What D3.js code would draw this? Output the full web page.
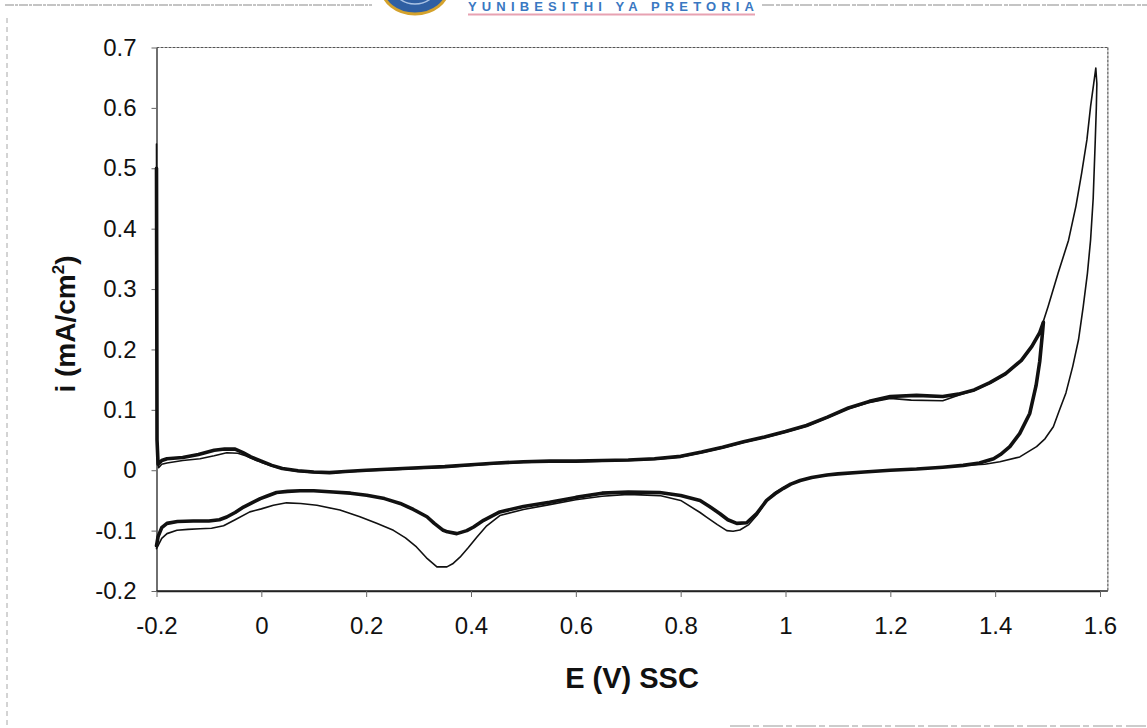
<!DOCTYPE html>
<html>
<head>
<meta charset="utf-8">
<script src="https://cdn.jsdelivr.net/npm/d3@7/dist/d3.min.js"></script>
<style>
  html, body { margin: 0; padding: 0; background: #ffffff; }
  svg { display: block; }
  text { font-family: "Liberation Sans", Arial, sans-serif; fill: #111; }
</style>
</head>
<body>
<svg id="chart" width="1147" height="728"></svg>
<script>
// Cyclic voltammograms: potential E (V vs SSC) and current density i (mA/cm²)
// Cycle with the 1.5 V anodic vertex (heavy trace)
const cycle15E = [
  -0.2, -0.199, -0.197, -0.19, -0.18, -0.15, -0.12, -0.09, -0.07, -0.05, -0.035, -0.02, 0.0, 0.02, 0.04, 0.07,
  0.1, 0.13, 0.16, 0.2, 0.25, 0.3, 0.35, 0.4, 0.45, 0.5, 0.55, 0.6, 0.65, 0.7, 0.75, 0.8, 0.84, 0.88, 0.92,
  0.96, 1.0, 1.04, 1.08, 1.12, 1.16, 1.2, 1.25, 1.3, 1.33, 1.36, 1.39, 1.42, 1.45, 1.47, 1.485, 1.492,
  1.49, 1.485, 1.478, 1.466, 1.447, 1.428, 1.41, 1.397, 1.37, 1.339, 1.3, 1.25, 1.2, 1.15, 1.1, 1.079, 1.05,
  1.028, 1.01, 0.996, 0.98, 0.964, 0.945, 0.926, 0.907, 0.89, 0.875, 0.855, 0.837, 0.8, 0.76, 0.7, 0.65,
  0.6, 0.55, 0.5, 0.455, 0.424, 0.405, 0.392, 0.373, 0.355, 0.347, 0.33, 0.316, 0.29, 0.265, 0.235, 0.201,
  0.17, 0.137, 0.1, 0.074, 0.05, 0.029, 0.01, -0.002, -0.02, -0.034, -0.05, -0.066, -0.08, -0.1, -0.13,
  -0.16, -0.18, -0.19, -0.197, -0.2
];
const cycle15I = [
  0.50, 0.05, 0.010, 0.016, 0.019, 0.021, 0.026, 0.033, 0.035, 0.035, 0.029, 0.022, 0.015, 0.008, 0.003, -0.001,
  -0.003, -0.004, -0.002, 0.0, 0.002, 0.004, 0.006, 0.009, 0.012, 0.014, 0.015, 0.015, 0.016, 0.017, 0.019, 0.023, 0.030, 0.038, 0.047,
  0.055, 0.064, 0.074, 0.088, 0.103, 0.114, 0.122, 0.124, 0.122, 0.126, 0.133, 0.145, 0.160, 0.182, 0.205, 0.228, 0.245,
  0.225, 0.18, 0.14, 0.094, 0.061, 0.039, 0.026, 0.019, 0.012, 0.008, 0.005, 0.002, 0.0, -0.003, -0.006, -0.008, -0.012,
  -0.017, -0.023, -0.030, -0.039, -0.050, -0.072, -0.087, -0.088, -0.082, -0.072, -0.060, -0.050, -0.042, -0.037, -0.036, -0.038,
  -0.045, -0.053, -0.060, -0.069, -0.083, -0.094, -0.100, -0.105, -0.102, -0.0995, -0.088, -0.077, -0.065, -0.055, -0.047, -0.0415,
  -0.038, -0.036, -0.034, -0.034, -0.035, -0.037, -0.043, -0.047, -0.055, -0.061, -0.070, -0.0775, -0.082, -0.084, -0.084,
  -0.085, -0.088, -0.095, -0.11, -0.125
];

// Cycle with the 1.6 V anodic vertex (light trace)
const cycle16E = [
  -0.2, -0.199, -0.196, -0.19, -0.18, -0.15, -0.117, -0.09, -0.066, -0.045, -0.03, -0.015, 0.0, 0.02, 0.04, 0.07,
  0.1, 0.13, 0.16, 0.2, 0.25, 0.3, 0.35, 0.4, 0.45, 0.5, 0.55, 0.6, 0.65, 0.7, 0.75, 0.8, 0.84, 0.88, 0.92,
  0.96, 1.0, 1.04, 1.08, 1.12, 1.16, 1.2, 1.24, 1.3, 1.33, 1.36, 1.39, 1.42, 1.45, 1.47, 1.485, 1.501,
  1.52, 1.54, 1.554, 1.565, 1.575, 1.582, 1.588, 1.592,
  1.594, 1.593, 1.591, 1.587, 1.582, 1.576, 1.568, 1.559, 1.548, 1.535, 1.522, 1.511, 1.495, 1.479, 1.447,
  1.409, 1.38, 1.34, 1.3, 1.25,
  1.2, 1.15, 1.1, 1.05, 1.028, 1.0, 0.98, 0.964, 0.945, 0.93, 0.913, 0.9, 0.888, 0.87, 0.85, 0.837, 0.8,
  0.76, 0.7, 0.65, 0.6, 0.55, 0.5, 0.455, 0.43, 0.411, 0.395, 0.379, 0.365, 0.354, 0.335, 0.315, 0.296,
  0.275, 0.252, 0.22, 0.188, 0.15, 0.106, 0.075, 0.048, 0.023, 0.0, -0.022, -0.05, -0.072, -0.095, -0.117,
  -0.14, -0.161, -0.18, -0.19, -0.197, -0.2
];
const cycle16I = [
  0.54, 0.04, 0.004, 0.010, 0.012, 0.016, 0.019, 0.024, 0.029, 0.028, 0.024, 0.018, 0.013, 0.007, 0.002, -0.002,
  -0.004, -0.005, -0.003, -0.001, 0.001, 0.003, 0.005, 0.008, 0.011, 0.013, 0.014, 0.014, 0.015, 0.016, 0.018, 0.022, 0.029, 0.037, 0.046,
  0.054, 0.063, 0.073, 0.087, 0.102, 0.112, 0.119, 0.116, 0.115, 0.124, 0.132, 0.144, 0.159, 0.181, 0.204, 0.228, 0.271,
  0.326, 0.381, 0.437, 0.492, 0.547, 0.602, 0.64, 0.666,
  0.64, 0.6, 0.547, 0.45, 0.381, 0.326, 0.271, 0.216, 0.172, 0.128, 0.098, 0.072, 0.052, 0.039, 0.022,
  0.014, 0.010, 0.008, 0.005, 0.002,
  0.0, -0.003, -0.006, -0.012, -0.017, -0.027, -0.037, -0.050, -0.075, -0.090, -0.099, -0.101, -0.100, -0.090, -0.078, -0.070, -0.050,
  -0.042, -0.040, -0.043, -0.049, -0.057, -0.065, -0.075, -0.092, -0.111, -0.128, -0.144, -0.155, -0.160, -0.160, -0.145, -0.127,
  -0.112, -0.0995, -0.088, -0.077, -0.066, -0.058, -0.055, -0.054, -0.058, -0.064, -0.069, -0.082, -0.092, -0.096, -0.097,
  -0.098, -0.0995, -0.105, -0.113, -0.125, -0.13
];

// Axis ticks and their printed labels
const xTicks = [-0.2, 0, 0.2, 0.4, 0.6, 0.8, 1, 1.2, 1.4, 1.6];
const xTickLabels = ["-0.2", "0", "0.2", "0.4", "0.6", "0.8", "1", "1.2", "1.4", "1.6"];
const yTicks = [-0.2, -0.1, 0, 0.1, 0.2, 0.3, 0.4, 0.5, 0.6, 0.7];
const yTickLabels = ["-0.2", "-0.1", "0", "0.1", "0.2", "0.3", "0.4", "0.5", "0.6", "0.7"];
const xFrameMax = 1.615;

const svg = d3.select("#chart");

// ---- page furniture of the scanned thesis page ----
const page = svg.append("g");
page.append("line").attr("x1", 5).attr("x2", 372).attr("y1", 5).attr("y2", 5)
  .attr("stroke", "#8a8a8a").attr("stroke-width", 1.2).attr("stroke-dasharray", "9,1,3,1");
page.append("line").attr("x1", 762).attr("x2", 1147).attr("y1", 5).attr("y2", 5)
  .attr("stroke", "#8a8a8a").attr("stroke-width", 1.2).attr("stroke-dasharray", "12,2,4,1");
page.append("line").attr("x1", 7).attr("x2", 7).attr("y1", 18).attr("y2", 728)
  .attr("stroke", "#a8a8a8").attr("stroke-width", 1).attr("stroke-dasharray", "5,4");
page.append("line").attr("x1", 730).attr("x2", 1147).attr("y1", 726).attr("y2", 726)
  .attr("stroke", "#9a9a9a").attr("stroke-width", 1.2).attr("stroke-dasharray", "20,3,6,4");

// university crest (lower part only, cut by the page edge)
page.append("ellipse").attr("cx", 415).attr("cy", -12).attr("rx", 33).attr("ry", 26)
  .attr("fill", "#2f5fa3").attr("stroke", "#d4a22c").attr("stroke-width", 3);
page.append("ellipse").attr("cx", 415).attr("cy", -14).attr("rx", 22).attr("ry", 18)
  .attr("fill", "none").attr("stroke", "#a9c2e4").attr("stroke-width", 1.5);
page.append("text").attr("x", 468).attr("y", 11)
  .attr("textLength", 286).attr("lengthAdjust", "spacing")
  .style("font-size", "13px").style("font-weight", "bold").style("fill", "#3a78c2")
  .text("YUNIBESITHI YA PRETORIA");
page.append("line").attr("x1", 468).attr("x2", 755).attr("y1", 14.5).attr("y2", 14.5)
  .attr("stroke", "#e7a2b2").attr("stroke-width", 2);

// ---- chart ----
const x = d3.scaleLinear().domain([-0.2, 1.6]).range([156.5, 1100]);
const y = d3.scaleLinear().domain([-0.2, 0.7]).range([591, 47.5]);

// plot-area frame (top and right edges light, axes dark)
svg.append("line").attr("x1", x(-0.2)).attr("x2", x(xFrameMax)).attr("y1", y(0.7)).attr("y2", y(0.7))
  .attr("stroke", "#555").attr("stroke-width", 1.2).attr("stroke-dasharray", "3,1");
svg.append("line").attr("x1", x(xFrameMax)).attr("x2", x(xFrameMax)).attr("y1", y(0.7)).attr("y2", y(-0.2))
  .attr("stroke", "#555").attr("stroke-width", 1.2).attr("stroke-dasharray", "3,1");
svg.append("line").attr("x1", x(-0.2)).attr("x2", x(xFrameMax)).attr("y1", y(-0.2)).attr("y2", y(-0.2))
  .attr("stroke", "#222").attr("stroke-width", 1.3);

const xAxis = d3.axisBottom(x).tickValues(xTicks)
  .tickFormat((d, i) => xTickLabels[i]).tickSizeInner(6).tickSizeOuter(0).tickPadding(20);
const yAxis = d3.axisLeft(y).tickValues(yTicks)
  .tickFormat((d, i) => yTickLabels[i]).tickSizeInner(5).tickSizeOuter(0).tickPadding(15);

const gx = svg.append("g").attr("transform", `translate(0,${y(-0.2)})`).call(xAxis);
const gy = svg.append("g").attr("transform", `translate(${x(-0.2)},0)`).call(yAxis);
[gx, gy].forEach(g => {
  g.select(".domain").attr("stroke", "#222").attr("stroke-width", 1.3);
  g.selectAll(".tick line").attr("stroke", "#666").attr("stroke-width", 1);
  g.selectAll(".tick text").style("font-size", "24px")
    .style("font-family", "'Liberation Sans', Arial, sans-serif").attr("fill", "#111");
});

// axis titles
svg.append("text").attr("x", 632).attr("y", 688).attr("text-anchor", "middle")
  .style("font-size", "29px").style("font-weight", "bold").text("E (V) SSC");

const yt = svg.append("text").attr("transform", "translate(75,324) rotate(-90)")
  .attr("text-anchor", "middle").style("font-size", "28px").style("font-weight", "bold");
yt.append("tspan").text("i (mA/cm");
yt.append("tspan").attr("dy", -11).style("font-size", "17px").text("2");
yt.append("tspan").attr("dy", 11).text(")");

// traces
const line = d3.line().x(d => x(d[0])).y(d => y(d[1]));
const cycle16 = cycle16E.map((e, k) => [e, cycle16I[k]]);
const cycle15 = cycle15E.map((e, k) => [e, cycle15I[k]]);

svg.append("path").datum(cycle16).attr("d", line)
  .attr("fill", "none").attr("stroke", "#111").attr("stroke-width", 1.6)
  .attr("stroke-linejoin", "round").attr("stroke-linecap", "round");
svg.append("path").datum(cycle15).attr("d", line)
  .attr("fill", "none").attr("stroke", "#111").attr("stroke-width", 3.6)
  .attr("stroke-linejoin", "round").attr("stroke-linecap", "round");
</script>
</body>
</html>
